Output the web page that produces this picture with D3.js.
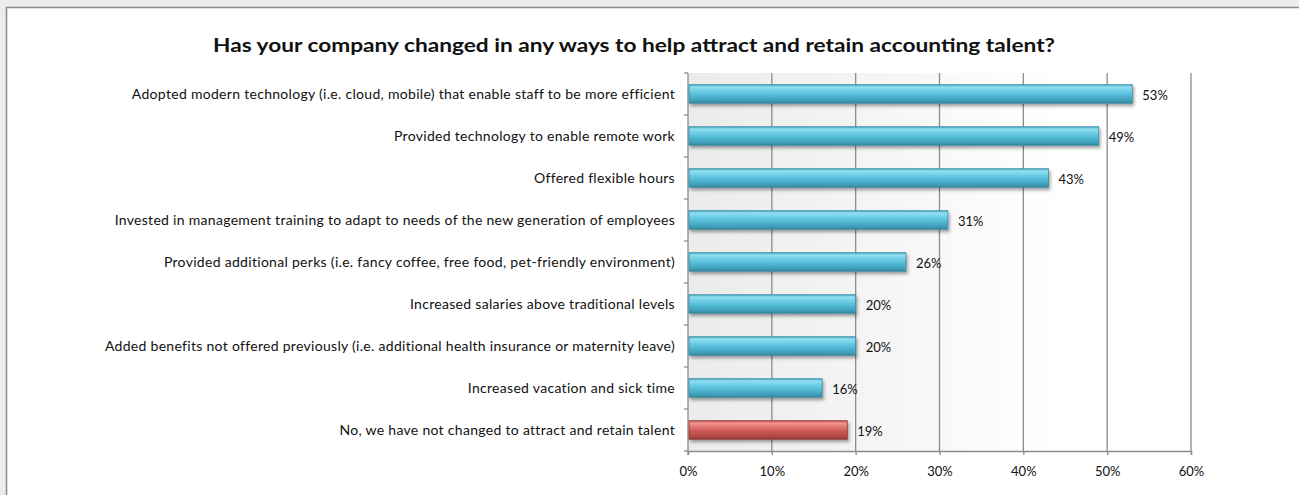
<!DOCTYPE html>
<html>
<head>
<meta charset="utf-8">
<script src="https://cdn.jsdelivr.net/npm/d3@7"></script>
<style>
  html, body { margin: 0; padding: 0; background: #ececec; }
  svg { display: block; }
</style>
</head>
<body>
<svg id="chart" width="1299" height="495"></svg>
<script>
// Survey answers, top to bottom
const categories = [
  "Adopted modern technology (i.e. cloud, mobile) that enable staff to be more efficient",
  "Provided technology to enable remote work",
  "Offered flexible hours",
  "Invested in management training to adapt to needs of the new generation of employees",
  "Provided additional perks (i.e. fancy coffee, free food, pet-friendly environment)",
  "Increased salaries above traditional levels",
  "Added benefits not offered previously (i.e. additional health insurance or maternity leave)",
  "Increased vacation and sick time",
  "No, we have not changed to attract and retain talent"
];
// Share of respondents, percent
const values = [53, 49, 43, 31, 26, 20, 20, 16, 19];
// Which answers are the "no change" answer (drawn in red)
const isNegative = [false, false, false, false, false, false, false, false, true];
const xTicks = [0, 10, 20, 30, 40, 50, 60];
const title = "Has your company changed in any ways to help attract and retain accounting talent?";

const svg = d3.select("#chart");
const W = 1299, H = 495;
const plot = { left: 688, right: 1191, top: 73, bottom: 451 };
const FONT = "Lato, 'Open Sans', sans-serif";

const defs = svg.append("defs");

// Plot area wash: light grey on the left fading to white
const bg = defs.append("linearGradient").attr("id", "plotBg")
  .attr("x1", "0").attr("x2", "1").attr("y1", "0").attr("y2", "0");
bg.append("stop").attr("offset", "0").attr("stop-color", "#ebebeb");
bg.append("stop").attr("offset", "0.75").attr("stop-color", "#ffffff");
bg.append("stop").attr("offset", "1").attr("stop-color", "#ffffff");

// Cylinder-like shading for the bars
function barGradient(id, stops) {
  const g = defs.append("linearGradient").attr("id", id)
    .attr("x1", "0").attr("x2", "0").attr("y1", "0").attr("y2", "1");
  stops.forEach(([o, c]) => g.append("stop").attr("offset", o).attr("stop-color", c));
}
barGradient("barBlue", [
  [0, "#46aac4"], [0.12, "#92e0f2"], [0.3, "#74d1e8"], [0.55, "#55bcd7"],
  [0.85, "#3f9fb9"], [1, "#35869c"]
]);
barGradient("barRed", [
  [0, "#c0504d"], [0.12, "#f29590"], [0.3, "#e27a75"], [0.55, "#cd5955"],
  [0.85, "#b04844"], [1, "#933a37"]
]);
// Soft drop shadow under each bar
const shadow = defs.append("filter").attr("id", "shadow")
  .attr("x", "-5%").attr("y", "-30%").attr("width", "115%").attr("height", "190%");
shadow.append("feDropShadow").attr("dx", 1.5).attr("dy", 2.5)
  .attr("stdDeviation", 1.6).attr("flood-color", "#000").attr("flood-opacity", 0.35);

// Chart frame
svg.append("rect").attr("x", 6.5).attr("y", 7.5).attr("width", W + 10).attr("height", H + 10)
  .attr("fill", "#ffffff").attr("stroke", "#8a8a8a").attr("stroke-width", 1.5);

// Title
svg.append("text")
  .attr("x", 634).attr("y", 52)
  .attr("text-anchor", "middle")
  .attr("font-family", FONT).attr("font-weight", "bold").attr("font-size", 19)
  .attr("fill", "#111")
  .attr("textLength", 842).attr("lengthAdjust", "spacingAndGlyphs")
  .text(title);

const x = d3.scaleLinear().domain([0, 60]).range([plot.left, plot.right]);
const y = d3.scaleBand().domain(categories).range([plot.top, plot.bottom])
  .paddingInner(0.56).paddingOuter(0.28);

// Plot background
svg.append("rect")
  .attr("x", plot.left).attr("y", plot.top)
  .attr("width", plot.right - plot.left).attr("height", plot.bottom - plot.top)
  .attr("fill", "url(#plotBg)");

// Vertical gridlines
svg.append("g").selectAll("line").data(xTicks.slice(1)).join("line")
  .attr("x1", d => x(d)).attr("x2", d => x(d))
  .attr("y1", plot.top).attr("y2", plot.bottom)
  .attr("stroke", "#8c8c8c").attr("stroke-width", 1.3);

// Bottom axis
const xAxis = svg.append("g").attr("transform", `translate(0,${plot.bottom})`)
  .call(d3.axisBottom(x).tickValues(xTicks).tickFormat(d => d + "%").tickSize(4).tickPadding(12));
xAxis.select(".domain").attr("stroke", "#8c8c8c").attr("stroke-width", 1.3);
xAxis.selectAll(".tick line").attr("stroke", "#8c8c8c").attr("stroke-width", 1.3);
xAxis.selectAll(".tick text").attr("font-family", FONT).attr("font-size", 13).attr("fill", "#111");

// Left category axis with ticks between the bands
const yAxisG = svg.append("g");
yAxisG.append("line")
  .attr("x1", plot.left).attr("x2", plot.left)
  .attr("y1", plot.top).attr("y2", plot.bottom + 4)
  .attr("stroke", "#8c8c8c").attr("stroke-width", 1.3);
const boundaries = d3.range(categories.length + 1).map(i => plot.top + i * y.step());
yAxisG.selectAll("line.tk").data(boundaries).join("line").attr("class", "tk")
  .attr("x1", plot.left - 4).attr("x2", plot.left)
  .attr("y1", d => d).attr("y2", d => d)
  .attr("stroke", "#8c8c8c").attr("stroke-width", 1.3);
yAxisG.selectAll("text").data(categories).join("text")
  .attr("x", plot.left - 13)
  .attr("y", d => y(d) + y.bandwidth() / 2)
  .attr("dy", "0.35em")
  .attr("text-anchor", "end")
  .attr("font-family", FONT).attr("font-size", 14).attr("letter-spacing", "0.3px")
  .attr("fill", "#111")
  .text(d => d);

// Bars
const rows = categories.map((c, i) => ({ c, v: values[i], neg: isNegative[i] }));
svg.append("g").selectAll("rect").data(rows).join("rect")
  .attr("x", x(0) + 1)
  .attr("y", d => y(d.c))
  .attr("width", d => x(d.v) - x(0) - 1)
  .attr("height", y.bandwidth())
  .attr("fill", d => d.neg ? "url(#barRed)" : "url(#barBlue)")
  .attr("stroke", d => d.neg ? "#8f3633" : "#3a8aa0")
  .attr("stroke-width", 0.8)
  .attr("filter", "url(#shadow)");

// Value labels
svg.append("g").selectAll("text").data(rows).join("text")
  .attr("x", d => x(d.v) + 10)
  .attr("y", d => y(d.c) + y.bandwidth() / 2 + 1)
  .attr("dy", "0.35em")
  .attr("font-family", FONT).attr("font-size", 13).attr("fill", "#111")
  .text(d => d.v + "%");
</script>
</body>
</html>
